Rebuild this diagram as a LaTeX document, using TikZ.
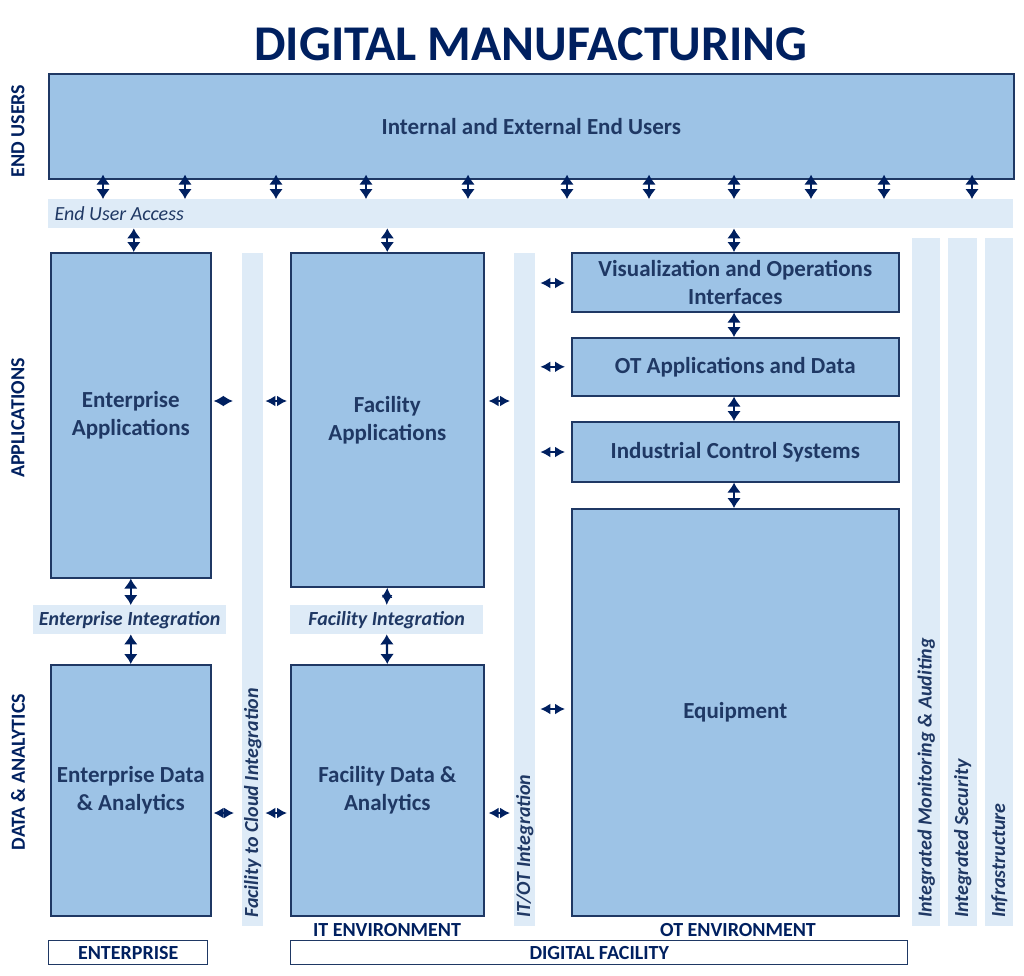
\documentclass[tikz,border=0pt]{standalone}
\usepackage{fontspec}
\setmainfont{Carlito}
\usetikzlibrary{arrows.meta}
\definecolor{navy}{HTML}{1F3864}
\definecolor{dnavy}{HTML}{002060}
\definecolor{boxblue}{HTML}{9DC3E6}
\definecolor{lightbar}{HTML}{DEEBF7}
\tikzset{
  box/.style={draw=navy, line width=1.6pt, fill=boxblue, inner sep=0pt, anchor=north west,
    text=navy, font=\fontsize{23}{28}\selectfont\bfseries, align=center},
  lbar/.style={fill=lightbar, inner sep=0pt, anchor=north west},
  bartext/.style={text=navy, font=\fontsize{20}{24}\selectfont\bfseries\itshape},
  sidelabel/.style={rotate=90, text=dnavy, font=\fontsize{20}{24}\selectfont\bfseries},
  dar/.style={{Latex[length=10pt,width=14pt]}-{Latex[length=10pt,width=14pt]}, line width=2.2pt, draw=dnavy},
  har/.style={{Latex[length=10pt,width=11pt]}-{Latex[length=10pt,width=11pt]}, line width=1.8pt, draw=dnavy},
  framebox/.style={draw=navy, line width=1.4pt, fill=white, inner sep=0pt, anchor=north west,
    text=dnavy, font=\fontsize{20}{24}\selectfont\bfseries},
  envlabel/.style={text=dnavy, font=\fontsize{20}{24}\selectfont\bfseries},
}
\begin{document}
\begin{tikzpicture}[x=1pt, y=-1pt]
\useasboundingbox (0,0) rectangle (1024,975);

% title
\node[text=dnavy, font=\fontsize{50}{56}\selectfont\bfseries] (title) at (531,44) {DIGITAL MANUFACTURING};

% side labels
\node[sidelabel] (lab1) at (18,131) {END USERS};
\node[sidelabel] (lab2) at (18,418) {APPLICATIONS};
\node[sidelabel] (lab3) at (18,772) {DATA \& ANALYTICS};

% end users
\node[box, minimum width=965pt, minimum height=105pt] (eu) at (48,73) {Internal and External End Users};
\node[lbar, minimum width=965pt, minimum height=29pt] (eua) at (48,199) {};
\node[bartext, font=\fontsize{20}{24}\selectfont\itshape, anchor=west] (euat) at ([xshift=3pt]eua.west) {End User Access};

% vertical bars
\node[lbar, minimum width=21pt, minimum height=673pt] (fc) at (242,253) {};
\node[bartext, rotate=90, anchor=west] (fct) at ([yshift=5pt]fc.south) {Facility to Cloud Integration};
\node[lbar, minimum width=21pt, minimum height=673pt] (itot) at (514,253) {};
\node[bartext, rotate=90, anchor=west] (itott) at ([yshift=5pt]itot.south) {IT/OT Integration};
\node[lbar, minimum width=28pt, minimum height=688pt] (ima) at (912,238) {};
\node[bartext, rotate=90, anchor=west] (imat) at ([yshift=5pt]ima.south) {Integrated Monitoring \& Auditing};
\node[lbar, minimum width=29pt, minimum height=688pt] (isec) at (948,238) {};
\node[bartext, rotate=90, anchor=west] (isect) at ([yshift=5pt]isec.south) {Integrated Security};
\node[lbar, minimum width=28pt, minimum height=688pt] (infra) at (985,238) {};
\node[bartext, rotate=90, anchor=west] (infrat) at ([yshift=5pt]infra.south) {Infrastructure};

% enterprise column
\node[box, minimum width=160pt, minimum height=325pt] (ea) at (50,252) {Enterprise\\Applications};
\node[lbar, minimum width=193pt, minimum height=29pt] (ei) at (33,605) {};
\node[bartext] (eit) at (ei.center) {Enterprise Integration};
\node[box, minimum width=160pt, minimum height=251pt] (ed) at (50,664) {Enterprise Data\\\& Analytics};

% facility column
\node[box, minimum width=193pt, minimum height=334pt] (fa) at (290,252) {Facility\\Applications};
\node[lbar, minimum width=193pt, minimum height=29pt] (fi) at (290,605) {};
\node[bartext] (fit) at (fi.center) {Facility Integration};
\node[box, minimum width=193pt, minimum height=251pt] (fd) at (290,664) {Facility Data \&\\Analytics};

% OT column
\node[box, minimum width=327pt, minimum height=59pt] (vis) at (571,252) {Visualization and Operations\\Interfaces};
\node[box, minimum width=327pt, minimum height=58pt] (ot) at (571,337) {OT Applications and Data};
\node[box, minimum width=327pt, minimum height=60pt] (ics) at (571,421) {Industrial Control Systems};
\node[box, minimum width=327pt, minimum height=407pt] (eq) at (571,508) {Equipment};

% bottom labels
\node[envlabel] (ite) at (387,930) {IT ENVIRONMENT};
\node[envlabel] (ote) at (738,930) {OT ENVIRONMENT};
\node[framebox, minimum width=159pt, minimum height=24pt] (ent) at (48,940) {ENTERPRISE};
\node[framebox, minimum width=617pt, minimum height=24pt] (dfac) at (290,940) {DIGITAL FACILITY};

% end user arrows
\foreach \d in {55,137,228,318,420,519,601,686,763,836,924}
  \draw[dar, shorten <=-5pt] ([xshift=\d pt]eu.south west) -- ([xshift=\d pt]eua.north west);
\coordinate (c1) at ([xshift=3pt]eua.south -| ea.north);
\draw[dar] (c1) -- (c1 |- ea.north);
\draw[dar] (eua.south -| fa.north) -- (fa.north);
\draw[dar] (eua.south -| 734,0) -- (vis.north -| 734,0);

% OT stack
\draw[dar] (vis.south -| 734,0) -- (ot.north -| 734,0);
\draw[dar] (ot.south -| 734,0) -- (ics.north -| 734,0);
\draw[dar] (ics.south -| 734,0) -- (eq.north -| 734,0);

% integration arrows
\draw[dar] (ea.south) -- (ei.north -| ea.south);
\draw[dar] (ei.south -| ed.north) -- (ed.north);
\draw[har] (fa.south) -- (fi.north);
\draw[dar] (fi.south) -- (fd.north);

% horizontal arrows
\draw[har, shorten <=2pt, shorten >=9pt] (ea.east |- 0,401) -- (fc.west |- 0,401);
\draw[har, shorten <=2pt, shorten >=3pt] (fc.east |- 0,401) -- (fa.west |- 0,401);
\draw[har, shorten <=4pt, shorten >=4pt] (fa.east |- 0,401) -- (itot.west |- 0,401);
\draw[har, shorten <=2pt, shorten >=8pt] (ed.east |- 0,813) -- (fc.west |- 0,813);
\draw[har, shorten <=2pt, shorten >=3pt] (fc.east |- 0,813) -- (fd.west |- 0,813);
\draw[har, shorten <=4pt, shorten >=4pt] (fd.east |- 0,813) -- (itot.west |- 0,813);
\draw[har, shorten <=5pt, shorten >=6pt] (itot.east |- 0,283) -- (vis.west |- 0,283);
\draw[har, shorten <=5pt, shorten >=6pt] (itot.east |- ot.west) -- (ot.west);
\draw[har, shorten <=5pt, shorten >=6pt] (itot.east |- 0,452) -- (ics.west |- 0,452);
\draw[har, shorten <=5pt, shorten >=6pt] (itot.east |- 0,709) -- (eq.west |- 0,709);
\end{tikzpicture}
\end{document}
